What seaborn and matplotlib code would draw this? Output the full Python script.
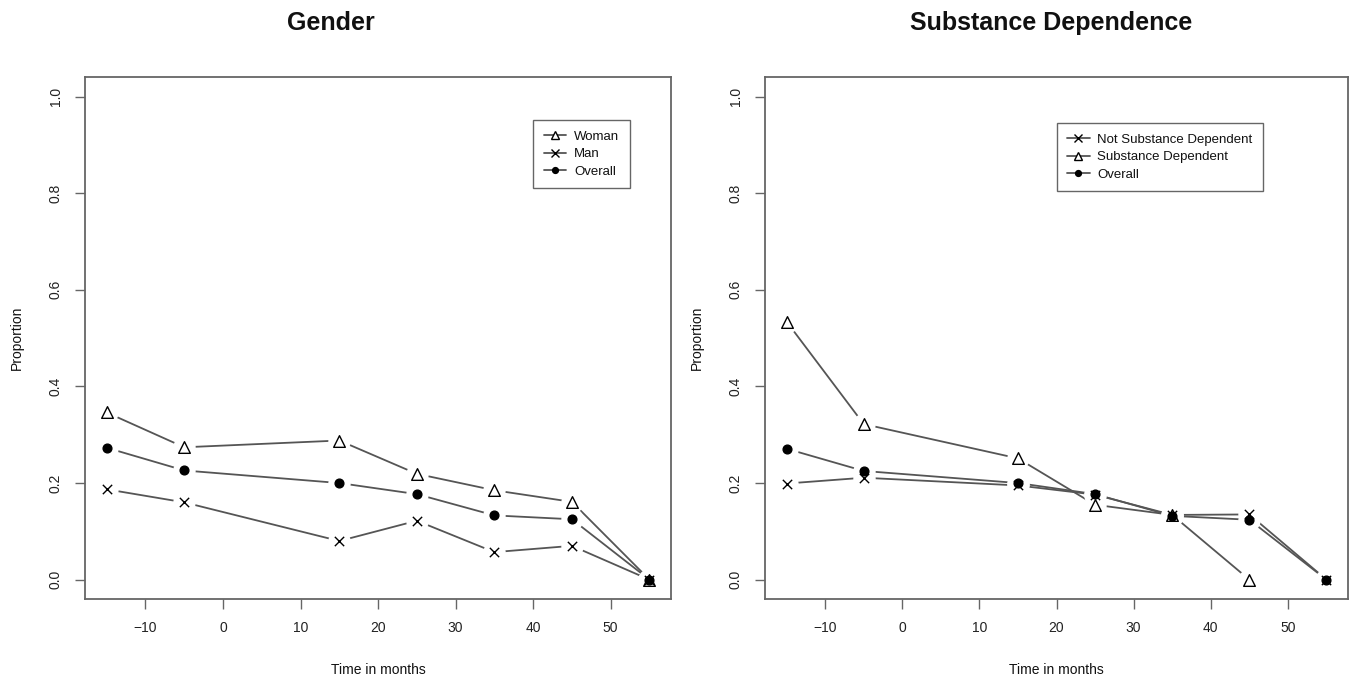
import numpy as np
import pandas as pd
import seaborn as sns
import matplotlib.pyplot as plt

# months since event
months = [-15, -5, 15, 25, 35, 45, 55]

# Gender panel
woman = [0.346, 0.274, 0.288, 0.219, 0.185, 0.161, 0.0]
man = [0.187, 0.160, 0.080, 0.122, 0.057, 0.070, 0.0]
overall_g = [0.273, 0.226, 0.200, 0.177, 0.133, 0.125, 0.0]

# Substance dependence panel
not_dep = [0.199, 0.211, 0.195, 0.176, 0.134, 0.135, 0.0]
dep_months = [-15, -5, 15, 25, 35, 45]
dep = [0.534, 0.322, 0.251, 0.155, 0.134, 0.0]
overall_s = [0.271, 0.225, 0.200, 0.177, 0.132, 0.124, 0.0]

sns.set_style("white")
plt.rcParams['font.family'] = ['Liberation Sans', 'DejaVu Sans']
plt.rcParams['text.color'] = '#111111'
plt.rcParams['axes.labelcolor'] = '#111111'
plt.rcParams['xtick.labelcolor'] = '#222222'
plt.rcParams['ytick.labelcolor'] = '#222222'

LINE = '#555555'
FRAME = '#666666'


def draw_series(ax, x, y, marker, label, filled=False):
    face = 'black' if filled else 'white'
    ms = 6 if filled else 8
    # line + marker (used for the legend)
    sns.lineplot(x=x, y=y, ax=ax, color=LINE, linewidth=1.3, marker=marker,
                 markersize=ms, markerfacecolor=face, markeredgecolor='black',
                 markeredgewidth=1.0, label=label, zorder=2)
    # white gap around points, like R type="b"
    sns.scatterplot(x=x, y=y, ax=ax, color='white', s=260, linewidth=0,
                    marker='o', zorder=2.5, legend=False)
    if marker == 'x':
        sns.scatterplot(x=x, y=y, ax=ax, color='black', s=45, marker='x',
                        linewidth=1.0, zorder=3, legend=False)
    else:
        sns.scatterplot(x=x, y=y, ax=ax, facecolor=face, edgecolor='black',
                        s=ms ** 2 * 1.1, marker=marker, linewidth=1.0,
                        zorder=3, legend=False)


def style_axes(ax, title, title_x):
    ax.set_xlim(-17.8, 57.8)
    ax.set_ylim(-0.04, 1.04)
    ax.set_xticks([-10, 0, 10, 20, 30, 40, 50])
    ax.set_yticks([0.0, 0.2, 0.4, 0.6, 0.8, 1.0])
    ax.set_yticklabels(['0.0', '0.2', '0.4', '0.6', '0.8', '1.0'],
                       rotation=90, va='center')
    ax.tick_params(axis='both', direction='out', length=7, width=1,
                   color=FRAME, labelsize=10, pad=9, left=True, bottom=True)
    for sp in ax.spines.values():
        sp.set_color(FRAME)
        sp.set_linewidth(1.3)
    ax.set_xlabel('Time in months', fontsize=10, labelpad=20)
    ax.set_ylabel('Proportion', fontsize=10, labelpad=18)
    ax.set_title(title, fontsize=18, fontweight='bold', pad=34, x=title_x)


def add_legend(ax, anchor):
    ax.legend(loc='upper left', bbox_to_anchor=anchor, fontsize=9.5,
              frameon=True, fancybox=False, edgecolor=FRAME, framealpha=1,
              handlelength=1.7, handletextpad=0.6, labelspacing=0.4,
              borderpad=0.8, borderaxespad=0, markerscale=0.7)


fig = plt.figure(figsize=(13.6, 6.83), dpi=100)
ax1 = fig.add_axes([0.0625, 0.123, 0.431, 0.764])
ax2 = fig.add_axes([0.5625, 0.123, 0.4287, 0.764])

draw_series(ax1, months, woman, '^', 'Woman')
draw_series(ax1, months, man, 'x', 'Man')
draw_series(ax1, months, overall_g, 'o', 'Overall', filled=True)
style_axes(ax1, 'Gender', 0.42)
add_legend(ax1, (0.765, 0.918))

draw_series(ax2, months, not_dep, 'x', 'Not Substance Dependent')
draw_series(ax2, dep_months, dep, '^', 'Substance Dependent')
draw_series(ax2, months, overall_s, 'o', 'Overall', filled=True)
style_axes(ax2, 'Substance Dependence', 0.49)
add_legend(ax2, (0.5, 0.912))

fig.savefig('out.png', dpi=100)
